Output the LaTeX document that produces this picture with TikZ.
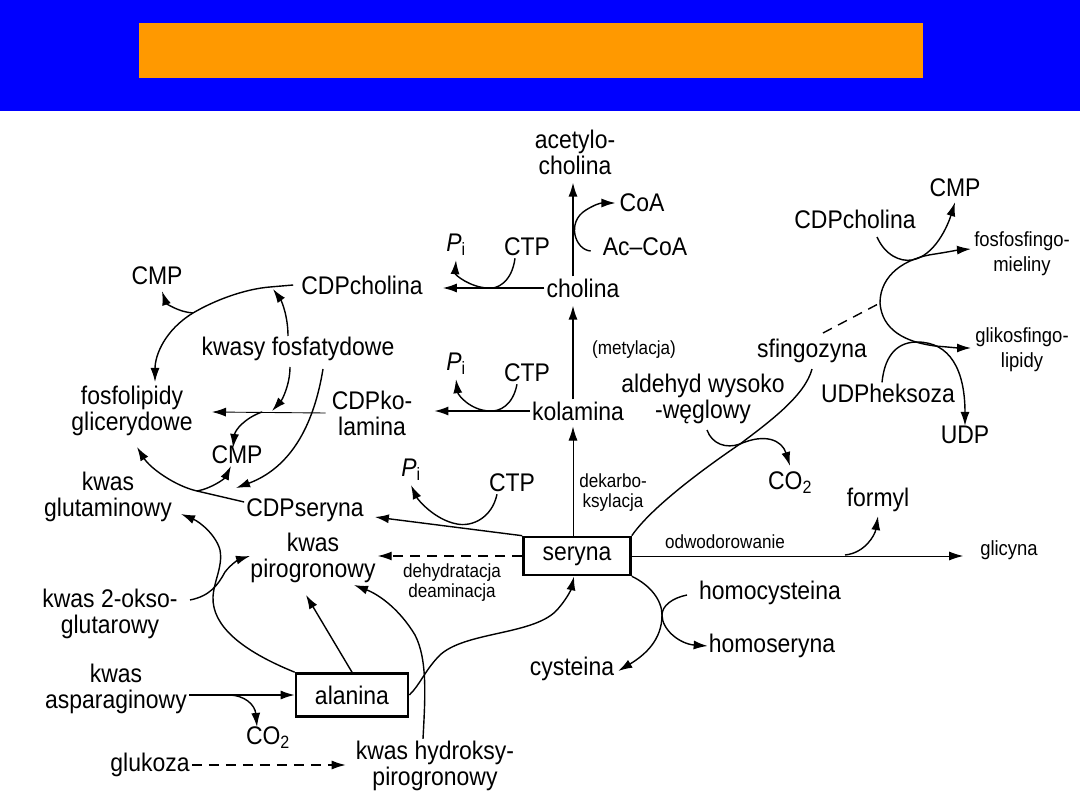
\documentclass[tikz,border=0pt]{standalone}
\usepackage{fontspec}
\setmainfont{Liberation Sans}[FakeStretch=0.9]
\usetikzlibrary{arrows.meta}
\definecolor{bandblue}{RGB}{0,0,255}
\definecolor{bandorange}{RGB}{255,153,0}
\tikzset{
  lbl/.style={font=\fontsize{25.5}{26}\selectfont, inner sep=2pt, align=center},
  sml/.style={font=\fontsize{19}{20}\selectfont, inner sep=2pt, align=center},
  mid/.style={font=\fontsize{20.5}{25}\selectfont, inner sep=2pt, align=center},
  arr/.style={line width=1.4pt, -{Latex[length=14pt,width=9pt]}},
  thinarr/.style={line width=0.9pt, -{Latex[length=14pt,width=9pt]}},
  con/.style={line width=1.4pt},
  dsh/.style={dash pattern=on 10pt off 7pt},
  aminobox/.style={draw, line width=2.6pt, inner sep=0pt, font=\fontsize{25.5}{26}\selectfont}
}
\newcommand{\Pinorg}{\textit{P}\textsubscript{i}}
\begin{document}
\begin{tikzpicture}[x=1pt,y=-1pt]
\useasboundingbox (0,0) rectangle (1080,810);
\fill[white] (0,0) rectangle (1080,810);
\fill[bandblue] (0,0) rectangle (1080,111);
\fill[bandorange] (139,23) rectangle (923,78);

% ---------- nodes ----------
\node[lbl] (acetyl) at (575,152) {acetylo-\\cholina};
\node[lbl] (coa) at (642,203) {CoA};
\node[lbl] (accoa) at (645,247) {Ac–CoA};
\node[lbl] (ctp1) at (527,247) {CTP};
\node[lbl] (pi1) at (456,245) {\Pinorg};
\node[lbl] (cholina) at (583,288) {cholina};
\node[lbl] (cdpchol) at (362,285) {CDPcholina};
\node[lbl] (cmp1) at (157,276) {CMP};
\node[lbl] (kwfosf) at (298,349) {kwasy fosfatydowe};
\node[lbl] (fosfolip) at (132,411) {fosfolipidy\\glicerydowe};
\node[lbl] (cdpkol) at (372,413) {CDPko-\\lamina};
\node[lbl] (pi2) at (456,364) {\Pinorg};
\node[lbl] (ctp2) at (527,373) {CTP};
\node[sml] (metyl) at (634,350) {(metylacja)};
\node[lbl] (kolamina) at (578,411) {kolamina};
\node[lbl] (ald) at (703,399) {aldehyd wysoko\\-węglowy};
\node[lbl] (sfing) at (812,351) {sfingozyna};
\node[lbl] (cdpchol2) at (855,219) {CDPcholina};
\node[lbl] (cmp2) at (955,188) {CMP};
\node[mid] (fosfosf) at (1022,254) {fosfosfingo-\\mieliny};
\node[mid] (glikosf) at (1022,350) {glikosfingo-\\lipidy};
\node[lbl] (udphek) at (888,393) {UDPheksoza};
\node[lbl] (udp) at (965,435) {UDP};
\node[lbl] (co2mid) at (790,483) {CO\textsubscript{2}};
\node[lbl] (cmp3) at (237,455) {CMP};
\node[lbl] (glutam) at (108,497) {kwas\\glutaminowy};
\node[lbl] (cdpser) at (305,510) {CDPseryna};
\node[lbl] (pi3) at (411,470) {\Pinorg};
\node[lbl] (ctp3) at (512,483) {CTP};
\node[sml] (dekarb) at (613,493) {dekarbo-\\ksylacja};
\node[lbl] (formyl) at (878,500) {formyl};
\node[aminobox, minimum width=107pt, minimum height=38pt] (seryna) at (577,556) {seryna};
\node[sml] (odwod) at (725,542) {odwodorowanie};
\node[mid] (glicyna) at (1009,550) {glicyna};
\node[lbl] (pirog) at (313,558) {kwas\\pirogronowy};
\node[sml] (dehyd) at (452,583) {dehydratacja\\deaminacja};
\node[lbl] (homocys) at (770,593) {homocysteina};
\node[lbl] (homoser) at (772,646) {homoseryna};
\node[lbl] (cysteina) at (572,669) {cysteina};
\node[lbl] (okso) at (110,614) {kwas 2-okso-\\glutarowy};
\node[lbl] (asparag) at (116,689) {kwas\\asparaginowy};
\node[aminobox, minimum width=112pt, minimum height=43pt] (alanina) at (352,695) {alanina};
\node[lbl] (co2bot) at (268,738) {CO\textsubscript{2}};
\node[lbl] (glukoza) at (150,765) {glukoza};
\node[lbl] (hydroksy) at (435,766) {kwas hydroksy-\\pirogronowy};

% ---------- junctions ----------
\coordinate (jchol) at (487,288);
\coordinate (jkol) at (489,411);
\coordinate (jser) at (457,524);
\coordinate (jcdpc) at (193,313);
\coordinate (jkf) at (262,412);
\coordinate (jcs) at (197,491);
\coordinate (jsf) at (880,303);
\coordinate (jald) at (740,444);
\coordinate (jcys) at (662,615);
\coordinate (jform) at (845,555);
\coordinate (jasp) at (228,695);

% ---------- choline branch ----------
\draw[arr] ([xshift=-10pt]cholina.north) -- ([xshift=-2pt,yshift=-6pt]acetyl.south);
\draw[arr] ([xshift=-10pt,yshift=-4pt]accoa.west) .. controls (575,250) and (566,222) .. (586,210)
   .. controls (594,205) and (600,203) .. ([xshift=-2pt]coa.west);
\draw[arr] (cholina.west) -- ([xshift=18pt]cdpchol.east |- cholina.west);
\draw[arr] ([xshift=-12pt]ctp1.south) .. controls (512,282) and (497,290) .. (jchol)
   .. controls (470,287) and (455,275) .. ([yshift=-2pt]pi1.south);

% ---------- ethanolamine branch ----------
\draw[arr] ([xshift=-5pt]kolamina.north) -- ([xshift=-10pt,yshift=-6pt]cholina.south);
\draw[arr] (kolamina.west) -- ([xshift=20pt]cdpkol.east |- kolamina.west);
\draw[arr] ([xshift=-10pt]ctp2.south) .. controls (513,405) and (500,412) .. (jkol)
   .. controls (470,410) and (458,395) .. ([yshift=-2pt]pi2.south);
\draw[thinarr] ([xshift=-4pt]seryna.north) -- ([xshift=-5pt,yshift=-4pt]kolamina.south);

% ---------- serine -> CDP-serine ----------
\draw[arr] (seryna.north west) -- ([xshift=9pt,yshift=-7pt]cdpser.east);
\draw[arr] ([xshift=-15pt]ctp3.south) .. controls (492,518) and (472,527) .. (jser)
   .. controls (435,520) and (418,500) .. ([yshift=-2pt]pi3.south);

% ---------- phospholipid cycle ----------
\draw[con] ([xshift=-6pt]cdpchol.west) -- (270,287) .. controls (245,289) and (215,300) .. (jcdpc);
\draw[arr] (jcdpc) .. controls (165,330) and (155,355) .. (155,382);
\draw[arr] (jcdpc) .. controls (178,312) and (166,303) .. ([xshift=5pt,yshift=-4pt]cmp1.south);
\draw[arr] (288,336) .. controls (288,315) and (281,300) .. (273,289);
\draw[thinarr] ([xshift=-4pt]cdpkol.west) -- (212,412);
\draw[arr] (290,367) .. controls (290,385) and (282,400) .. (272,411);
\draw[arr] (jkf) .. controls (245,418) and (235,430) .. (233,448);
\draw[arr] (323,369) .. controls (316,412) and (298,465) .. (236,488);
\draw[con] ([yshift=8pt]cdpser.west) -- (jcs);
\draw[arr] (jcs) .. controls (175,486) and (150,468) .. (137,447);
\draw[arr] (jcs) .. controls (213,488) and (225,478) .. (231,466);

% ---------- sphingolipids ----------
\draw[con] (seryna.north east) .. controls (648,512) and (690,478) .. (jald)
   .. controls (772,420) and (805,395) .. ([yshift=-4pt]sfing.south);
\draw[con] (707,430) .. controls (712,444) and (726,449) .. (jald);
\draw[arr] (jald) .. controls (765,433) and (782,440) .. ([yshift=4pt]co2mid.north);
\draw[con, dsh] (823,333) -- (jsf);
\draw[arr] (jsf) .. controls (880,275) and (905,258) .. (935,254)
   .. controls (948,252) and (958,250) .. (971,249);
\draw[arr] (jsf) .. controls (882,330) and (905,342) .. (935,346)
   .. controls (948,347) and (958,348) .. (971,348);
\draw[arr] (877,237) .. controls (885,255) and (900,262) .. (912,260)
   .. controls (935,256) and (948,225) .. ([yshift=-3pt]cmp2.south);
\draw[arr] ([xshift=-6pt,yshift=-1pt]udphek.north) .. controls (885,352) and (900,342) .. (917,342)
   .. controls (950,342) and (965,370) .. ([yshift=-2pt]udp.north);

% ---------- serine -> glycine, formyl ----------
\draw[thinarr] (seryna.east) -- ([xshift=-15pt]seryna.east -| glicyna.west);
\draw[arr] (jform) .. controls (865,553) and (875,535) .. ([yshift=-2pt]formyl.south);

% ---------- cysteine / homoserine ----------
\draw[arr] (seryna.south east) .. controls (650,585) and (662,600) .. (jcys)
   .. controls (662,640) and (645,655) .. ([xshift=2pt,yshift=-2pt]cysteina.east);
\draw[arr] (687,595) .. controls (672,598) and (662,606) .. (jcys)
   .. controls (662,630) and (680,644) .. ([xshift=1pt]homoser.west);

% ---------- pyruvate area ----------
\draw[arr, dsh] (seryna.west) -- (seryna.west -| pirog.east);
\draw[arr] (alanina.north) -- (306,595);
\draw[arr] (alanina.north west) .. controls (240,650) and (212,625) .. (213,597)
   .. controls (214,580) and (223,567) .. (220,550) .. controls (216,535) and (200,522) .. (181,514);
\draw[arr] (190,600) .. controls (210,596) and (218,585) .. (225,572)
   .. controls (232,563) and (240,559) .. (250,556);
\draw[arr] ([xshift=-12pt]hydroksy.north) .. controls (425,700) and (428,660) .. (415,635)
   .. controls (400,610) and (380,595) .. (354,585);
\draw[arr] (alanina.east) .. controls (420,685) and (425,670) .. (440,655)
   .. controls (465,632) and (530,635) .. (555,612) .. controls (565,602) and (571,590) .. ([xshift=-3pt]seryna.south);
\draw[arr] (alanina.west -| asparag.east) -- (alanina.west);
\draw[arr] (jasp) .. controls (245,695) and (255,705) .. ([xshift=-11pt,yshift=-2pt]co2bot.north);
\draw[arr, dsh] (glukoza.east) -- ([xshift=-8pt]glukoza.east -| hydroksy.west);
\end{tikzpicture}
\end{document}
